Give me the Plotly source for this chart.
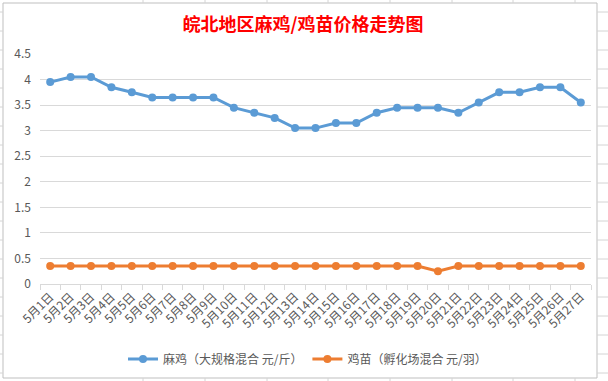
import plotly.graph_objects as go

categories = [f"5月{d}日" for d in range(1, 28)]
maji = [3.95, 4.05, 4.05, 3.85, 3.75, 3.65, 3.65, 3.65, 3.65, 3.45, 3.35, 3.25, 3.05, 3.05,
        3.15, 3.15, 3.35, 3.45, 3.45, 3.45, 3.35, 3.55, 3.75, 3.75, 3.85, 3.85, 3.55]
jimiao = [0.35] * 19 + [0.25] + [0.35] * 7
series_names = ["麻鸡（大规格混合 元/斤）", "鸡苗（孵化场混合 元/羽）"]
title_text = "皖北地区麻鸡/鸡苗价格走势图"

W, H = 608, 381
L, R, T, B = 40, 17, 54, 97
pw, ph = W - L - R, H - T - B

def px(x):
    return (x - L) / pw

def py(y):
    return (H - B - y) / ph

fig = go.Figure()
fig.add_trace(go.Scatter(x=categories, y=maji, name=series_names[0], mode="lines+markers",
                         line=dict(color="#5B9BD5", width=3), marker=dict(size=8, color="#5B9BD5")))
fig.add_trace(go.Scatter(x=categories, y=jimiao, name=series_names[1], mode="lines+markers",
                         line=dict(color="#ED7D31", width=3), marker=dict(size=8, color="#ED7D31")))

shapes = []
cell = "#D4D4D4"
for xv in [143, 205, 267, 328, 390, 452, 513, 575]:
    shapes.append(dict(type="line", xref="paper", yref="paper", x0=px(xv), x1=px(xv), y0=py(0), y1=py(3),
                       line=dict(color=cell, width=1)))
    shapes.append(dict(type="line", xref="paper", yref="paper", x0=px(xv), x1=px(xv), y0=py(378), y1=py(381),
                       line=dict(color=cell, width=1)))
for yv in range(12, 381, 19):
    shapes.append(dict(type="line", xref="paper", yref="paper", x0=px(0), x1=px(3), y0=py(yv), y1=py(yv),
                       line=dict(color=cell, width=1)))
    shapes.append(dict(type="line", xref="paper", yref="paper", x0=px(597), x1=px(608), y0=py(yv), y1=py(yv),
                       line=dict(color=cell, width=1)))
shapes.append(dict(type="rect", xref="paper", yref="paper", x0=px(3), x1=px(597), y0=py(378), y1=py(3),
                   line=dict(color="#BFBFBF", width=1), fillcolor="rgba(0,0,0,0)", layer="below"))

fig.update_layout(
    width=W, height=H,
    margin=dict(l=L, r=R, t=T, b=B, autoexpand=False),
    paper_bgcolor="white", plot_bgcolor="white",
    font=dict(family="Noto Sans CJK SC, sans-serif", color="#595959", size=12),
    title=dict(text=f"<b>{title_text}</b>", x=303 / W, xanchor="center", y=1 - 25 / H, yanchor="middle",
               font=dict(size=18, color="#FF0000", family="Noto Sans CJK SC")),
    showlegend=True,
    legend=dict(orientation="h", x=px(123), xanchor="left", y=py(359), yanchor="middle",
                font=dict(size=12, color="#595959"), itemwidth=30, bgcolor="rgba(0,0,0,0)"),
    shapes=shapes,
    xaxis=dict(type="category", tickangle=-45, showgrid=False, showline=True, linecolor="#D9D9D9",
               ticks="outside", tickson="boundaries", ticklen=5, tickcolor="#D9D9D9",
               tickfont=dict(size=12, color="#595959"), range=[-0.5, 26.5], automargin=False),
    yaxis=dict(range=[0, 4.5], dtick=0.5, showgrid=True, gridcolor="#D9D9D9", gridwidth=1,
               zeroline=False, showline=False, tickfont=dict(size=12, color="#595959"),
               ticklabelstandoff=8, automargin=False),
)

fig.write_html("out.html", config={"displayModeBar": False},
               post_script="document.body.style.margin='0';document.body.style.padding='0';")
